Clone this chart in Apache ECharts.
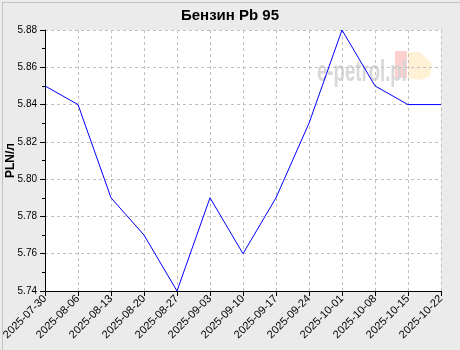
<!DOCTYPE html>
<html><head><meta charset="utf-8">
<script src="https://cdn.jsdelivr.net/npm/echarts@6/dist/echarts.min.js"></script>
<style>html,body{margin:0;padding:0;background:#ebebeb;}#c{width:460px;height:350px;}</style>
</head><body><div id="c"></div>
<script>
const categories = ['2025-07-30','2025-08-06','2025-08-13','2025-08-20','2025-08-27','2025-09-03','2025-09-10','2025-09-17','2025-09-24','2025-10-01','2025-10-08','2025-10-15','2025-10-22'];
const prices = [5.85, 5.84, 5.79, 5.77, 5.74, 5.79, 5.76, 5.79, 5.83, 5.88, 5.85, 5.84, 5.84];
const chart = echarts.init(document.getElementById('c'), null, {renderer:'canvas'});
const F = 'Liberation Sans, Arial, sans-serif';
chart.setOption({
  backgroundColor:'#ebebeb',
  animation:false,
  title:{text:'Бензин Pb 95', left:'center', top:3, textStyle:{fontFamily:F, fontSize:15, fontWeight:'bold', color:'#000'}},
  grid:{left:45, right:19, top:30, bottom:59, show:true, backgroundColor:'#fff', borderWidth:0, containLabel:false, outerBoundsMode:'none'},
  graphic:[
    {type:'rect', left:0, top:0, shape:{width:459, height:349}, style:{fill:'none', stroke:'#c4c4c4', lineWidth:1}, silent:true, z:-1},
    {type:'rect', x:395, y:51, shape:{width:12, height:27}, style:{fill:'#ffc8c8', opacity:0.85}, silent:true, z:0},
    {type:'polygon', shape:{points:[[408,52],[420,52],[432,64],[430,76],[420,80],[408,78]]}, style:{fill:'#fff0d0', opacity:0.9}, silent:true, z:0},
    {type:'text', x:317, y:58, scaleX:0.62, style:{text:'e-petrol.pl', fontFamily:'Liberation Sans, sans-serif', fontWeight:'bold', fontSize:30, fill:'#d4d4d4', opacity:0.9}, silent:true, z:0}
  ],
  xAxis:{type:'category', data:categories, boundaryGap:false,
    axisLine:{lineStyle:{color:'#000'}},
    axisTick:{show:true, length:5, lineStyle:{color:'#000'}},
    axisLabel:{rotate:45, fontFamily:F, fontSize:11, color:'#000', margin:6, interval:0},
    splitLine:{show:true, lineStyle:{color:'#c0c0c0', type:[3,3]}}
  },
  yAxis:{type:'value', min:5.74, max:5.88, interval:0.02,
    name:'PLN/л', nameLocation:'middle', nameGap:28, nameRotate:90, nameMoveOverlap:false,
    nameTextStyle:{fontFamily:F, fontSize:12, fontWeight:'bold', color:'#000'},
    axisLine:{show:true, lineStyle:{color:'#000'}},
    axisTick:{show:true, length:5, lineStyle:{color:'#000'}},
    minorTick:{show:true, splitNumber:2, length:3, lineStyle:{color:'#000'}},
    axisLabel:{fontFamily:F, fontSize:10, color:'#000', margin:8, formatter:v=>v.toFixed(2)},
    splitLine:{show:true, lineStyle:{color:'#c0c0c0', type:[3,3]}}
  },
  series:[{type:'line', data:prices, symbol:'none', lineStyle:{color:'#0000ff', width:1}, z:3}]
});
</script></body></html>
